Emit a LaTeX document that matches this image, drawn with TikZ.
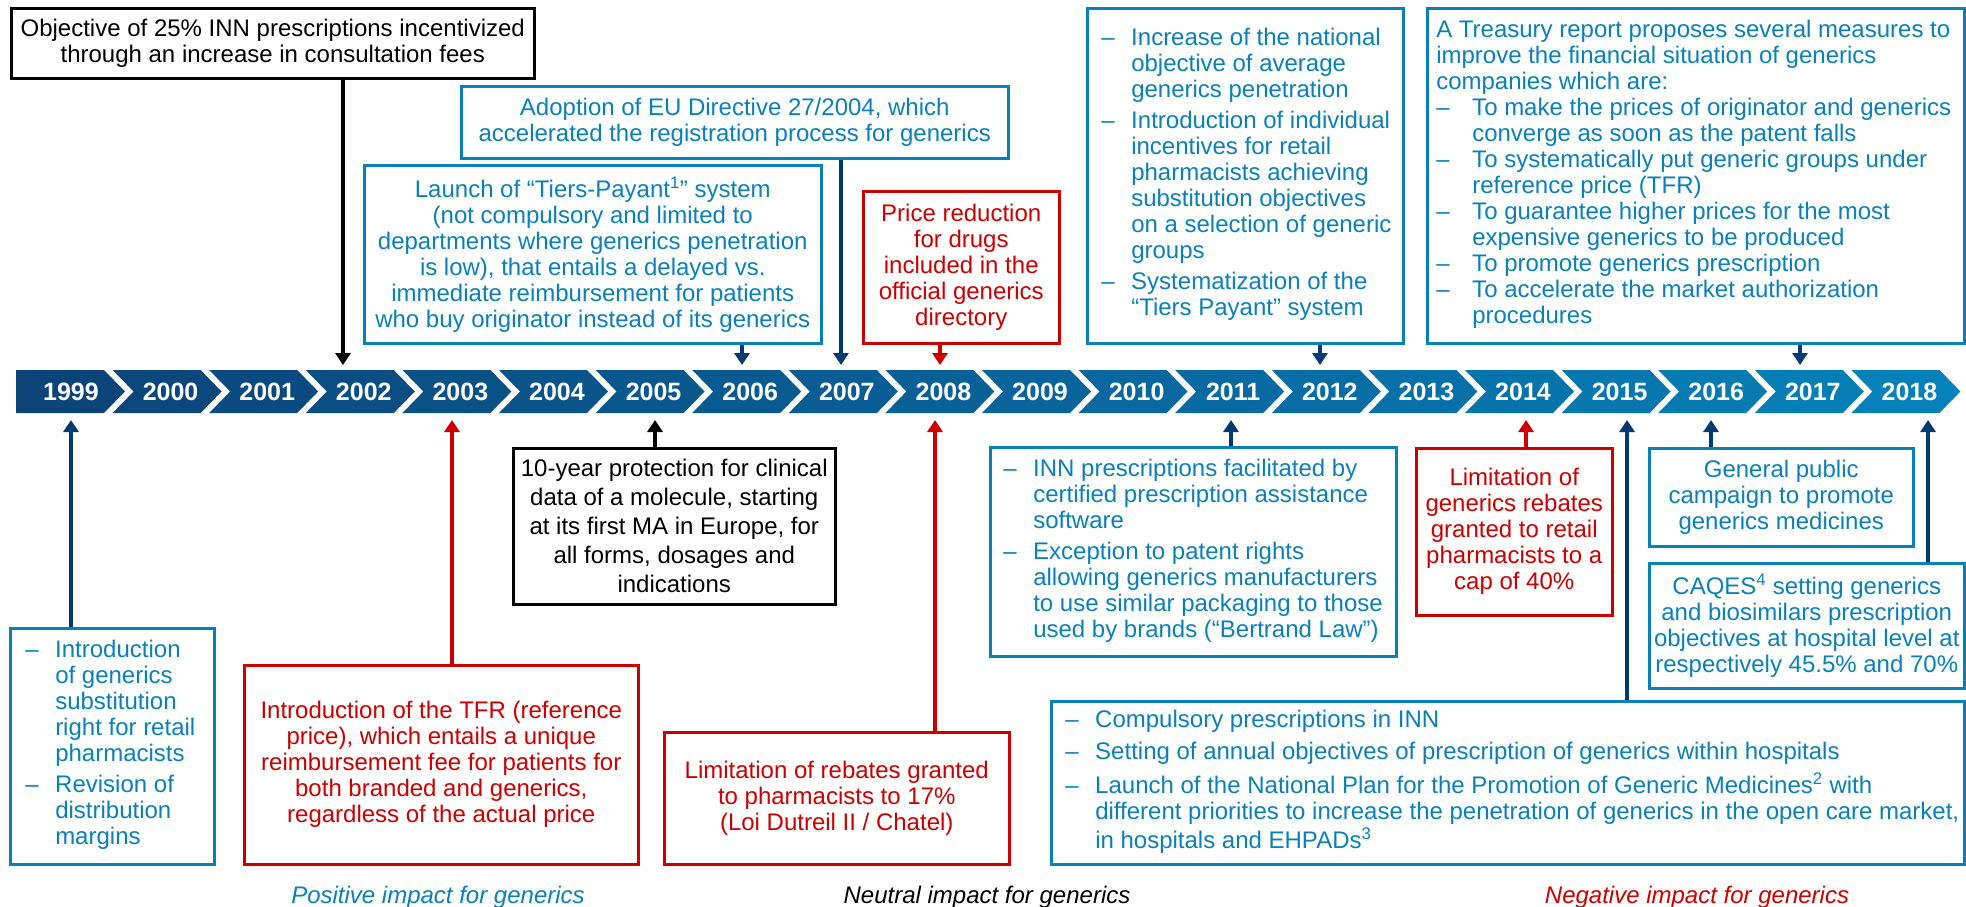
\documentclass[tikz,border=0pt]{standalone}
\usepackage{fontspec}
\setmainfont{Liberation Sans}
\usetikzlibrary{arrows.meta}
\definecolor{bl}{RGB}{10,128,185}
\definecolor{nv}{RGB}{0,58,112}
\definecolor{rd}{RGB}{204,0,0}
\definecolor{barL}{RGB}{11,68,121}
\definecolor{barR}{RGB}{6,128,184}
\tikzset{
  bx/.style={draw=#1, text=#1, line width=2.5pt, inner sep=0pt, align=center, anchor=north west,
     font=\fontsize{24}{26}\selectfont},
  arr/.style={draw=#1, line width=4.5pt, -{Triangle[width=15pt,length=12pt]}},
  yearlbl/.style={text=white, font=\fontsize{25}{30}\selectfont\bfseries, inner sep=0pt},
  captionlbl/.style={font=\fontsize{24}{28}\selectfont\itshape, anchor=base, inner sep=0pt},
}
\begin{document}
\begin{tikzpicture}[x=1pt,y=-1pt]
\useasboundingbox (0,0) rectangle (1966,906);
% timeline
\foreach \i in {0,...,19}{
  \pgfmathsetmacro\b{16+96.6*\i}
  \pgfmathsetmacro\t{\i/19*100}
  \pgfmathtruncatemacro\yr{1999+\i}
  \ifnum\i=0
    \fill[barR!\t!barL] (\b,370) -- ({\b+88},370) -- ({\b+109},391.5) -- ({\b+88},413) -- (\b,413) -- cycle;
    \node[yearlbl] (y\yr) at ({\b+55},391.5) {\yr};
  \else
    \fill[barR!\t!barL] (\b,370) -- ({\b+88},370) -- ({\b+109},391.5) -- ({\b+88},413) -- (\b,413) -- ({\b+21},391.5) -- cycle;
    \node[yearlbl] (y\yr) at ({\b+58},391.5) {\yr};
  \fi
}
% top boxes
\node[bx=black, minimum width=523, minimum height=70] (A) at (10,7)
  {Objective of 25\% INN prescriptions incentivized\\through an increase in consultation fees};
\node[bx=bl, minimum width=547, minimum height=72] (B) at (460,85)
  {Adoption of EU Directive 27/2004, which\\accelerated the registration process for generics};
\node[bx=bl, minimum width=457, minimum height=178] (C) at (363,164)
  {Launch of “Tiers-Payant\textsuperscript{1}” system\\(not compulsory and limited to\\departments where generics penetration\\is low), that entails a delayed vs.\\immediate reimbursement for patients\\who buy originator instead of its generics};
\node[bx=rd, minimum width=196, minimum height=152] (D) at (862,190)
  {Price reduction\\for drugs\\included in the\\official generics\\directory};
\node[bx=bl, minimum width=316, minimum height=335] (E) at (1086,7)
  {\makebox[316pt][l]{\hspace*{14pt}\begin{tabular}{@{}p{30pt}@{}l@{}}
  \textendash&Increase of the national\\&objective of average\\&generics penetration\\[5pt]
  \textendash&Introduction of individual\\&incentives for retail\\&pharmacists achieving\\&substitution objectives\\&on a selection of generic\\&groups\\[5pt]
  \textendash&Systematization of the\\&“Tiers Payant” system
  \end{tabular}}};
\node[bx=bl, minimum width=537, minimum height=335] (F) at (1426,7)
  {\makebox[537pt][l]{\hspace*{9pt}\begin{tabular}{@{}p{36pt}@{}l@{}}
  \multicolumn{2}{@{}l@{}}{A Treasury report proposes several measures to}\\
  \multicolumn{2}{@{}l@{}}{improve the financial situation of generics}\\
  \multicolumn{2}{@{}l@{}}{companies which are:}\\
  \textendash&To make the prices of originator and generics\\&converge as soon as the patent falls\\
  \textendash&To systematically put generic groups under\\&reference price (TFR)\\
  \textendash&To guarantee higher prices for the most\\&expensive generics to be produced\\
  \textendash&To promote generics prescription\\
  \textendash&To accelerate the market authorization\\&procedures
  \end{tabular}}};
% bottom boxes
\node[bx=bl, minimum width=204, minimum height=236] (G) at (9,627)
  {\makebox[204pt][l]{\hspace*{15pt}\begin{tabular}{@{}p{30pt}@{}l@{}}
  \textendash&Introduction\\&of generics\\&substitution\\&right for retail\\&pharmacists\\[5pt]
  \textendash&Revision of\\&distribution\\&margins
  \end{tabular}}};
\node[bx=rd, minimum width=394, minimum height=199] (H) at (243,664)
  {Introduction of the TFR (reference\\price), which entails a unique\\reimbursement fee for patients for\\both branded and generics,\\regardless of the actual price};
\node[bx=black, minimum width=322, minimum height=156, font=\fontsize{24}{29}\selectfont] (I) at (512,447)
  {10-year protection for clinical\\data of a molecule, starting\\at its first MA in Europe, for\\all forms, dosages and\\indications};
\node[bx=rd, minimum width=345, minimum height=132] (J) at (663,731)
  {Limitation of rebates granted\\to pharmacists to 17\%\\(Loi Dutreil II / Chatel)};
\node[bx=bl, minimum width=406, minimum height=209] (K) at (989,446)
  {\makebox[406pt][l]{\hspace*{13pt}\begin{tabular}{@{}p{30pt}@{}l@{}}
  \textendash&INN prescriptions facilitated by\\&certified prescription assistance\\&software\\[5pt]
  \textendash&Exception to patent rights\\&allowing generics manufacturers\\&to use similar packaging to those\\&used by brands (“Bertrand Law”)
  \end{tabular}}};
\node[bx=rd, minimum width=196, minimum height=167] (L) at (1415,447)
  {Limitation of\\generics rebates\\granted to retail\\pharmacists to a\\cap of 40\%};
\node[bx=bl, minimum width=913, minimum height=163] (N) at (1050,700)
  {\makebox[913pt][l]{\hspace*{14pt}\begin{tabular}{@{}p{30pt}@{}l@{}}
  \textendash&Compulsory prescriptions in INN\\[6pt]
  \textendash&Setting of annual objectives of prescription of generics within hospitals\\[6pt]
  \textendash&Launch of the National Plan for the Promotion of Generic Medicines\textsuperscript{2} with\\
  &different priorities to increase the penetration of generics in the open care market,\\
  &in hospitals and EHPADs\textsuperscript{3}
  \end{tabular}}};
\node[bx=bl, minimum width=264, minimum height=98] (P) at (1648,447)
  {General public\\campaign to promote\\generics medicines};
\node[bx=bl, minimum width=315, minimum height=125] (Q) at (1648,562)
  {CAQES\textsuperscript{4} setting generics\\and biosimilars prescription\\objectives at hospital level at\\respectively 45.5\% and 70\%};
% arrow end points
\coordinate (tA) at (343,365);
\coordinate (tB) at (841,365);
\coordinate (tC) at (742,365);
\coordinate (tD) at (940,365);
\coordinate (tE) at (1320,365);
\coordinate (tF) at (1800,365);
\coordinate (bG) at (71,420);
\coordinate (bH) at (452,420);
\coordinate (bI) at (655,420);
\coordinate (bJ) at (935,420);
\coordinate (bK) at (1231,420);
\coordinate (bL) at (1526,420);
\coordinate (bN) at (1627,420);
\coordinate (bP) at (1711,420);
\coordinate (bQ) at (1928,420);
% connectors
\draw[arr=black] (A.south -| tA) -- (tA);
\draw[arr=nv] (B.south -| tB) -- (tB);
\draw[arr=nv] (C.south -| tC) -- (tC);
\draw[arr=rd] (D.south -| tD) -- (tD);
\draw[arr=nv] (E.south -| tE) -- (tE);
\draw[arr=nv] (F.south -| tF) -- (tF);
\draw[arr=nv] (G.north -| bG) -- (bG);
\draw[arr=rd] (H.north -| bH) -- (bH);
\draw[arr=black] (I.north -| bI) -- (bI);
\draw[arr=rd] (J.north -| bJ) -- (bJ);
\draw[arr=nv] (K.north -| bK) -- (bK);
\draw[arr=rd] (L.north -| bL) -- (bL);
\draw[arr=nv] (N.north -| bN) -- (bN);
\draw[arr=nv] (P.north -| bP) -- (bP);
\draw[arr=nv] (Q.north -| bQ) -- (bQ);
% captions
\node[captionlbl, text=bl] (c1) at (438,903) {Positive impact for generics};
\node[captionlbl, text=black] (c2) at (987,903) {Neutral impact for generics};
\node[captionlbl, text=rd] (c3) at (1697,903) {Negative impact for generics};
\end{tikzpicture}
\end{document}
